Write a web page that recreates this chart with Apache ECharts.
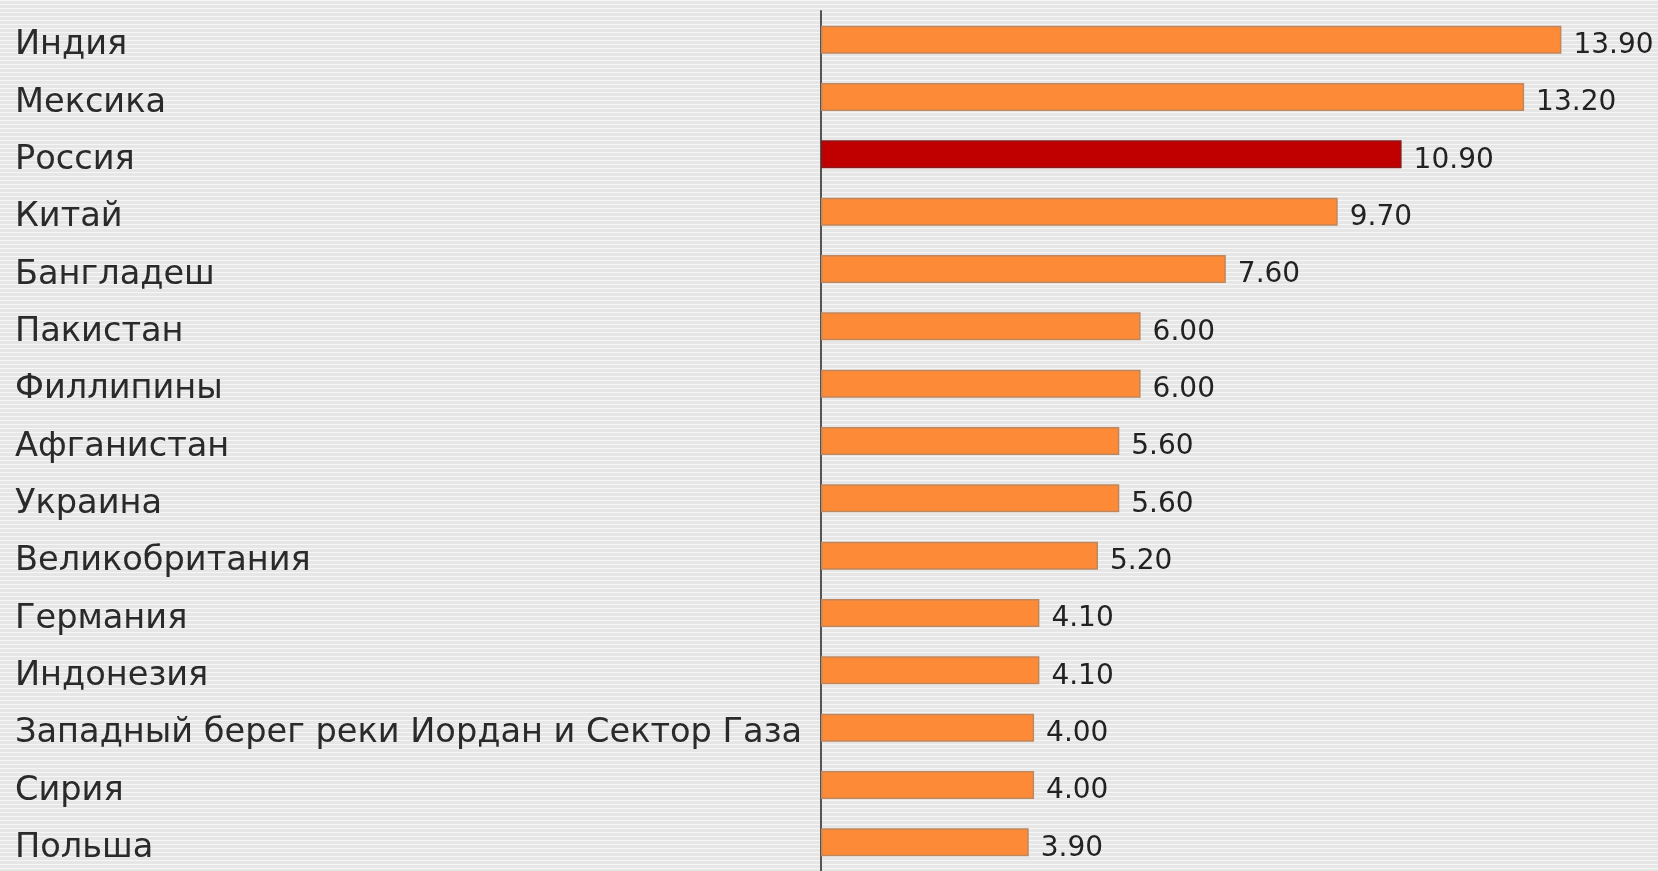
<!DOCTYPE html>
<html>
<head>
<meta charset="utf-8">
<script src="https://cdn.jsdelivr.net/npm/echarts@6/dist/echarts.min.js"></script>
<style>
  html, body {
    margin: 0;
    padding: 0;
    width: 1658px;
    height: 871px;
    overflow: hidden;
    background: repeating-linear-gradient(to bottom, #f6f6f6 0px, #f6f6f6 1.5px, #e6e6e6 1.5px, #e6e6e6 4px);
  }
  #chart {
    width: 1658px;
    height: 871px;
  }
</style>
</head>
<body>
<div id="chart"></div>
<script>
  // страны сверху вниз
  var countries = [
    'Индия', 'Мексика', 'Россия', 'Китай', 'Бангладеш', 'Пакистан', 'Филлипины',
    'Афганистан', 'Украина', 'Великобритания', 'Германия', 'Индонезия',
    'Западный берег реки Иордан и Сектор Газа', 'Сирия', 'Польша'
  ]
  var values = [13.9, 13.2, 10.9, 9.7, 7.6, 6.0, 6.0, 5.6, 5.6, 5.2, 4.1, 4.1, 4.0, 4.0, 3.9]
  var highlight = 'Россия'

  var myChart = echarts.init(document.getElementById('chart'))

  var option = {
    backgroundColor: 'transparent',
    animation: false,
    grid: {
      left: 821,
      top: 11,
      width: 799,
      height: 866
    },
    xAxis: {
      type: 'value',
      min: 0,
      max: 15,
      show: false
    },
    yAxis: {
      type: 'category',
      inverse: true,
      data: countries,
      axisTick: { show: false },
      axisLine: {
        show: true,
        lineStyle: { color: '#555', width: 2 }
      },
      axisLabel: {
        align: 'left',
        margin: 806,
        color: '#2a2a2a',
        fontFamily: 'DejaVu Sans',
        fontSize: 33.6,
        verticalAlign: 'top',
        lineHeight: 12
      }
    },
    series: [{
      type: 'bar',
      barWidth: 28,
      data: values.map(function (v, i) {
        var isRu = countries[i] === highlight
        return {
          value: v,
          itemStyle: {
            color: isRu ? '#c00000' : '#fd8a37',
            borderColor: isRu ? '#8a1a1a' : '#c0875c',
            borderWidth: 1.5
          }
        }
      }),
      label: {
        show: true,
        position: 'right',
        distance: 12,
        offset: [0, 6],
        color: '#222',
        fontFamily: 'DejaVu Sans',
        fontSize: 28,
        formatter: function (p) { return p.value.toFixed(2) }
      }
    }]
  }
  myChart.setOption(option)
</script>
</body>
</html>
